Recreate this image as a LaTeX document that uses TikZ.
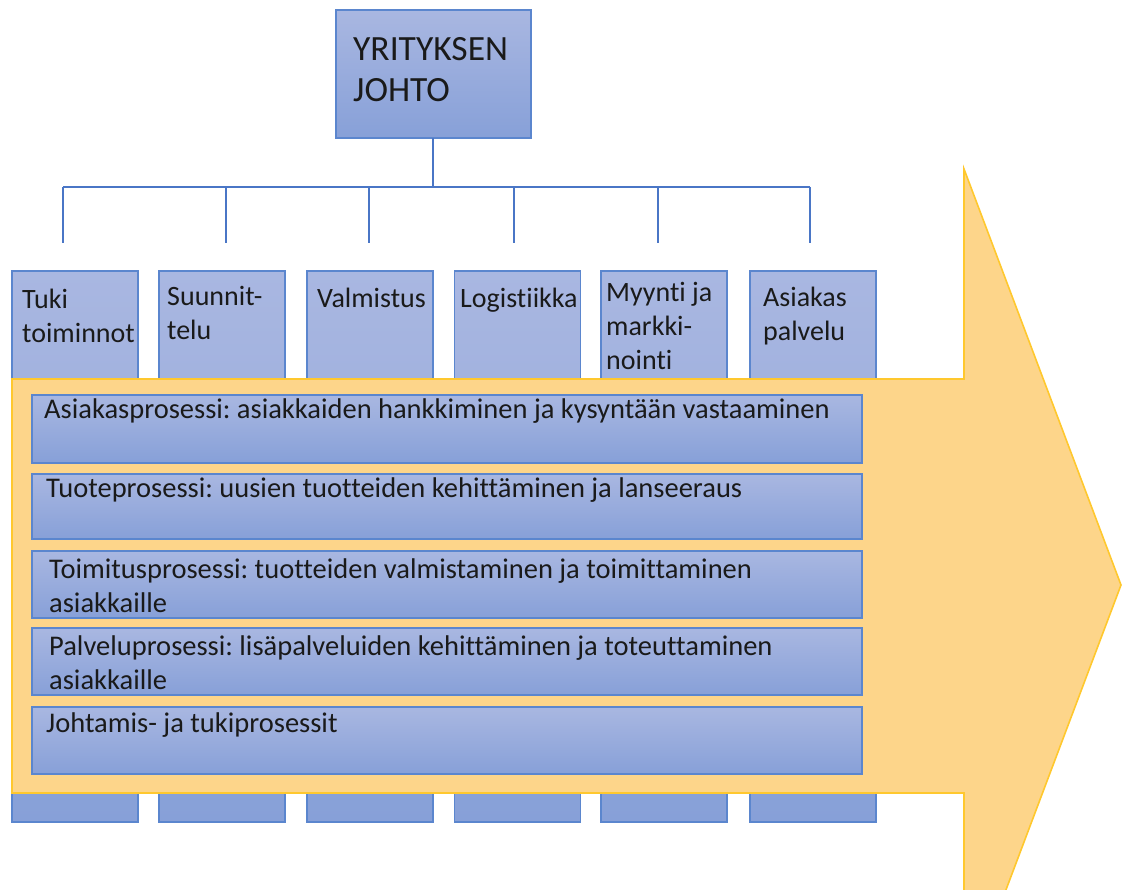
\documentclass[tikz,border=0pt]{standalone}
\usepackage{fontspec}
\setmainfont[Ligatures=NoCommon]{Carlito}
\frenchspacing
\definecolor{linkblue}{HTML}{4A76C6}
\definecolor{boxedge}{HTML}{5B86CE}
\definecolor{boxtop}{HTML}{A9B7E1}
\definecolor{boxbot}{HTML}{87A0D8}
\definecolor{arrowfill}{HTML}{FDD58A}
\definecolor{arrowedge}{HTML}{FFC82E}
\definecolor{ink}{HTML}{1A1A1A}
\begin{document}
\begin{tikzpicture}[x=1pt,y=-1pt,
  box/.style={draw=boxedge, line width=1.3pt, top color=boxtop, bottom color=boxbot,
    inner sep=0pt, outer sep=0pt},
  colbox/.style={box, minimum width=126pt, minimum height=551pt},
  barbox/.style={box, minimum width=830pt},
  link/.style={draw=linkblue, line width=2pt},
  % labels are placed by the baseline of their last line
  coltext/.style={anchor=base west, inner sep=0pt, text=ink, align=left,
    font=\fontsize{28}{34}\selectfont},
  bartext/.style={anchor=base west, inner sep=0pt, text=ink, align=left,
    font=\fontsize{28.5}{34}\selectfont},
]
\useasboundingbox (0,0) rectangle (1123,890);

% department columns, partly hidden behind the value-chain arrow
\node[colbox] (c1) at (75,546.5) {};
\node[colbox] (c2) at (222,546.5) {};
\node[colbox] (c3) at (370,546.5) {};
\node[colbox] (c4) at (517.5,546.5) {};
\node[colbox] (c5) at (664,546.5) {};
\node[colbox] (c6) at (813,546.5) {};

\node[coltext] (t1) at (22,342) {Tuki\\toiminnot};
\node[coltext] (t2) at (167,339) {Suunnit-\\telu};
\node[coltext] (t3) at (317,307) {Valmistus};
\node[coltext] (t4) at (460,307) {Logistiikka};
\node[coltext] (t5) at (606,369) {Myynti ja\\markki-\\nointi};
\node[coltext] (t6) at (763,340) {Asiakas\\palvelu};

% value-chain arrow
\begin{scope}
  \clip (0,0) rectangle (1123,890);
  \draw[fill=arrowfill, draw=arrowedge, line width=1.6pt, line join=miter]
    (12,379) -- (964,379) -- (964,169) -- (1121,585) -- (964,1001)
    -- (964,793) -- (12,793) -- cycle;
\end{scope}

% process bars
\node[barbox, minimum height=68pt] (p1) at (447,429) {};
\node[barbox, minimum height=65pt] (p2) at (447,506.5) {};
\node[barbox, minimum height=67pt] (p3) at (447,584.5) {};
\node[barbox, minimum height=67pt] (p4) at (447,661.5) {};
\node[barbox, minimum height=67pt] (p5) at (447,740.5) {};

\node[bartext] (q1) at (44,418) {Asiakasprosessi: asiakkaiden hankkiminen ja kysyntään vastaaminen};
\node[bartext] (q2) at (46,497) {Tuoteprosessi: uusien tuotteiden kehittäminen ja lanseeraus};
\node[bartext] (q3) at (49,612) {Toimitusprosessi: tuotteiden valmistaminen ja toimittaminen\\asiakkaille};
\node[bartext] (q4) at (49,689) {Palveluprosessi: lisäpalveluiden kehittäminen ja toteuttaminen\\asiakkaille};
\node[bartext] (q5) at (46,732) {Johtamis- ja tukiprosessit};

% management box and the organisation tree
\node[box, minimum width=195pt, minimum height=128pt] (top) at (433.5,74) {};
\node[anchor=base west, inner sep=0pt, text=ink, align=left,
  font=\fontsize{35.5}{41}\selectfont] (toptext) at (353,102) {YRITYKSEN\\JOHTO};

\coordinate (hub) at (433,187);
\coordinate (hl) at (63,187);
\coordinate (hr) at (810,187);
\coordinate (d1) at (63,243);
\coordinate (d2) at (226,243);
\coordinate (d3) at (369,243);
\coordinate (d4) at (514,243);
\coordinate (d5) at (658,243);
\coordinate (d6) at (810,243);

\draw[link] (top.south -| hub) -- (hub);
\draw[link] (hl) -- (hr);
\foreach \d in {d1,d2,d3,d4,d5,d6}
  \draw[link] (\d |- hub) -- (\d);
\end{tikzpicture}
\end{document}
